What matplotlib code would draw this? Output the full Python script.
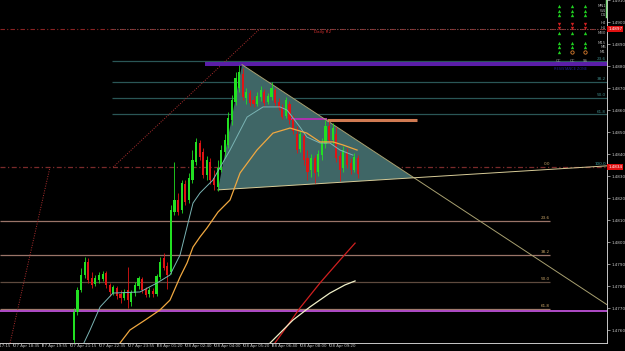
# ============================================================
# plot.py
# EURUSD-style M5 chart: descending triangle, fib levels, MAs
# ============================================================

# -----------------------------
# 1. Imports
# -----------------------------
import numpy as np
import matplotlib
matplotlib.use("Agg")
import matplotlib.pyplot as plt
from matplotlib.lines import Line2D
from matplotlib.patches import Polygon


# -----------------------------
# 2. Candle data (10 min steps, x = 5-min bar number)
# -----------------------------
bar_idx = np.arange(50, 210, 2)

opens = [
    1.47555, 1.47682, 1.47782, 1.47850, 1.47909, 1.47836, 1.47809, 1.47827, 1.47832, 1.47859,
    1.47805, 1.47768, 1.47791, 1.47764, 1.47745, 1.47782, 1.47727, 1.47768, 1.47800, 1.47832,
    1.47786, 1.47764, 1.47777, 1.47764, 1.47841, 1.47927, 1.47891, 1.47864, 1.48136, 1.48191,
    1.48145, 1.48264, 1.48191, 1.48282, 1.48364, 1.48450, 1.48409, 1.48305, 1.48364, 1.48291,
    1.48250, 1.48327, 1.48409, 1.48441, 1.48555, 1.48636, 1.48700, 1.48764, 1.48655, 1.48677,
    1.48645, 1.48627, 1.48659, 1.48682, 1.48636, 1.48659, 1.48691, 1.48636, 1.48614, 1.48573,
    1.48627, 1.48559, 1.48491, 1.48423, 1.48482, 1.48382, 1.48327, 1.48382, 1.48318, 1.48395,
    1.48445, 1.48527, 1.48464, 1.48491, 1.48391, 1.48336, 1.48409, 1.48359, 1.48327, 1.48382,
]
highs = [
    1.47700, 1.47795, 1.47882, 1.47932, 1.47927, 1.47864, 1.47850, 1.47864, 1.47868, 1.47868,
    1.47814, 1.47805, 1.47800, 1.47782, 1.47786, 1.47886, 1.47782, 1.47818, 1.47845, 1.47841,
    1.47795, 1.47795, 1.47791, 1.47855, 1.47932, 1.47950, 1.47909, 1.48168, 1.48364, 1.48223,
    1.48282, 1.48282, 1.48314, 1.48418, 1.48473, 1.48464, 1.48427, 1.48391, 1.48382, 1.48327,
    1.48373, 1.48441, 1.48491, 1.48591, 1.48668, 1.48773, 1.48805, 1.48791, 1.48700, 1.48691,
    1.48664, 1.48682, 1.48709, 1.48695, 1.48677, 1.48727, 1.48700, 1.48655, 1.48627, 1.48659,
    1.48641, 1.48577, 1.48527, 1.48505, 1.48495, 1.48418, 1.48400, 1.48395, 1.48418, 1.48473,
    1.48555, 1.48550, 1.48541, 1.48523, 1.48409, 1.48436, 1.48427, 1.48382, 1.48405, 1.48395,
]
lows = [
    1.47532, 1.47668, 1.47773, 1.47836, 1.47814, 1.47791, 1.47800, 1.47814, 1.47823, 1.47791,
    1.47755, 1.47759, 1.47741, 1.47723, 1.47736, 1.47700, 1.47709, 1.47755, 1.47786, 1.47768,
    1.47750, 1.47750, 1.47750, 1.47755, 1.47832, 1.47873, 1.47786, 1.47855, 1.48123, 1.48123,
    1.48132, 1.48168, 1.48177, 1.48268, 1.48350, 1.48373, 1.48291, 1.48282, 1.48264, 1.48236,
    1.48232, 1.48318, 1.48382, 1.48427, 1.48532, 1.48623, 1.48682, 1.48645, 1.48627, 1.48618,
    1.48614, 1.48618, 1.48641, 1.48618, 1.48627, 1.48645, 1.48618, 1.48600, 1.48559, 1.48564,
    1.48536, 1.48491, 1.48405, 1.48409, 1.48350, 1.48282, 1.48295, 1.48268, 1.48300, 1.48373,
    1.48427, 1.48450, 1.48445, 1.48364, 1.48277, 1.48318, 1.48336, 1.48309, 1.48318, 1.48291,
]
closes = [
    1.47682, 1.47782, 1.47850, 1.47909, 1.47827, 1.47805, 1.47836, 1.47850, 1.47855, 1.47805,
    1.47773, 1.47795, 1.47755, 1.47745, 1.47773, 1.47736, 1.47773, 1.47805, 1.47836, 1.47782,
    1.47759, 1.47782, 1.47764, 1.47845, 1.47909, 1.47882, 1.47850, 1.48145, 1.48191, 1.48136,
    1.48268, 1.48182, 1.48291, 1.48373, 1.48455, 1.48386, 1.48305, 1.48373, 1.48282, 1.48259,
    1.48336, 1.48418, 1.48464, 1.48564, 1.48645, 1.48745, 1.48773, 1.48659, 1.48682, 1.48632,
    1.48627, 1.48664, 1.48691, 1.48632, 1.48664, 1.48700, 1.48632, 1.48609, 1.48568, 1.48645,
    1.48555, 1.48505, 1.48418, 1.48491, 1.48373, 1.48318, 1.48382, 1.48314, 1.48400, 1.48455,
    1.48527, 1.48464, 1.48518, 1.48382, 1.48327, 1.48418, 1.48350, 1.48327, 1.48386, 1.48309,
]

# moving averages
ma_fast_x = [55.6, 59.0, 64.6, 71.8, 86.8, 96.3, 103.5, 109.1, 116.3, 120.2, 127.4,
             136.9, 146.4, 155.3, 164.7, 168.6, 175.8, 179.7, 187.0, 192.5, 198.1, 205.3]
ma_fast_y = [1.47541, 1.47600, 1.47705, 1.47768, 1.47773, 1.47814, 1.47850, 1.47941,
             1.48177, 1.48223, 1.48282, 1.48418, 1.48568, 1.48614, 1.48614, 1.48600,
             1.48523, 1.48477, 1.48450, 1.48450, 1.48418, 1.48395]

ma_slow_x = [75.7, 81.2, 89.6, 97.9, 103.5, 109.1, 113.0, 116.3, 120.2, 124.1, 130.2,
             136.9, 142.5, 151.9, 160.8, 170.3, 179.7, 187.0, 194.2, 199.8, 207.6]
ma_slow_y = [1.47541, 1.47600, 1.47645, 1.47691, 1.47736, 1.47841, 1.47905, 1.47977,
             1.48023, 1.48064, 1.48136, 1.48191, 1.48314, 1.48418, 1.48495, 1.48518,
             1.48495, 1.48455, 1.48455, 1.48441, 1.48418]

# two extra lines at lower right
red_line_x = [161.9, 170.3, 175.8, 187.0, 198.1, 206.5]
red_line_y = [1.47541, 1.47636, 1.47700, 1.47814, 1.47918, 1.47995]
cream_line_x = [159.2, 171.9, 181.4, 192.5, 200.9, 206.5]
cream_line_y = [1.47541, 1.47645, 1.47705, 1.47768, 1.47805, 1.47823]

# axes
time_ticks = [0, 16, 32, 48, 64, 80, 96, 112, 128, 144, 160, 176, 192]
time_labels = ["27 Apr 17:15", "27 Apr 18:35", "27 Apr 19:55", "27 Apr 21:15",
               "27 Apr 22:35", "27 Apr 23:55", "28 Apr 01:20", "28 Apr 02:40",
               "28 Apr 04:00", "28 Apr 05:20", "28 Apr 06:40", "28 Apr 08:00",
               "28 Apr 09:20"]
price_ticks = [1.4760, 1.4770, 1.4780, 1.4790, 1.4800, 1.4810, 1.4820, 1.4830,
               1.4840, 1.4850, 1.4860, 1.4870, 1.4880, 1.4890, 1.4900, 1.4910]

# levels
daily_r2 = 1.4897
pivot_level = 1.4834
upper_fib_levels = [1.48821, 1.48729, 1.48655, 1.48581]
upper_fib_labels = ["23.6", "38.2", "50.0", "61.8"]
lower_fib_levels = [1.48095, 1.47943, 1.47820, 1.47697]
lower_fib_labels = ["23.6", "38.2", "50.0", "61.8"]
lower_fib_colors = ["#9a7468", "#9a7468", "#5e4a3e", "#a07a6c"]
resistance_level = 1.48809
support_level = 1.47686
zone_level = 1.48555

# triangle: bottom-left, top, right tip
triangle_x = [130.2, 143.6, 239.3]
triangle_y = [1.48237, 1.48806, 1.48292]

# dotted diagonals
diag1_x = [14.5, 36.7]
diag1_y = [1.47541, 1.4834]
diag2_x = [71.8, 153.6]
diag2_y = [1.4834, 1.4897]

# multi-timeframe panel
panel_labels = ["MN1", "W1", "D1", "H4", "H1", "M30", "M15", "M5", "M1"]
panel_signals = [
    ["up", "up", "up"], ["up", "up", "up"], ["up", "up", "up"],
    ["down", "down", "down"], ["down", "down", "down"], ["up", "up", "up"],
    ["up", "up", "up"], ["up", "up", "up"], ["up", "flat", "flat"],
]
panel_footer = ["CC", "CC", "SS"]

XMIN, XMAX = 8.9, 346.7
YMIN, YMAX = 1.47541, 1.4910


# -----------------------------
# 3. Figure
# -----------------------------
W, H = 625, 351
fig = plt.figure(figsize=(W / 100, H / 100), dpi=100, facecolor="black")
ax = fig.add_axes([0, 8 / H, 607 / W, 343 / H], facecolor="black")
ax.set_xlim(XMIN, XMAX)
ax.set_ylim(YMIN, YMAX)

for side in ["top", "left"]:
    ax.spines[side].set_visible(False)
for side in ["bottom", "right"]:
    ax.spines[side].set_color("#c8c8c8")
    ax.spines[side].set_linewidth(0.7)


# -----------------------------
# 4. Horizontal levels
# -----------------------------
ax.hlines(daily_r2, XMIN, XMAX, color="#8a2222", lw=0.8, linestyles=(0, (4, 2, 1, 2)), zorder=1)
ax.hlines(daily_r2, 71.2, XMAX, color="#7a7070", lw=0.6, linestyles=(0, (1, 2)), zorder=1)
ax.text(193, daily_r2 - 0.00005, "Daily R2", color="#d03030", fontsize=3, va="top", ha="right")

ax.hlines(pivot_level, XMIN, XMAX, color="#7a2a2a", lw=0.9, linestyles=(0, (4, 2, 1, 2)), zorder=1)

for lvl, lab in zip(upper_fib_levels, upper_fib_labels):
    ax.hlines(lvl, 71.2, XMAX, color="#2a5656", lw=0.9, zorder=1)
    ax.text(346, lvl + 0.00003, lab, color="#3f8a8a", fontsize=3, ha="right", va="bottom")
ax.text(346, pivot_level + 0.00004, "100.0", color="#3fa0a0", fontsize=3, ha="right", va="bottom")

for lvl, lab, col in zip(lower_fib_levels, lower_fib_labels, lower_fib_colors):
    ax.hlines(lvl, XMIN, 315, color=col, lw=0.9, zorder=1)
    ax.text(315, lvl + 0.00003, lab, color="#c8a468", fontsize=3, ha="right", va="bottom")
ax.text(315, pivot_level + 0.00004, "0.0", color="#c8a468", fontsize=3, ha="right", va="bottom")

ax.hlines(resistance_level, 123.0, XMAX, color="#5a1ea8", lw=2.9, zorder=2)
ax.hlines(support_level, XMIN, XMAX, color="#b04cc8", lw=1.4, zorder=2)
ax.hlines(zone_level, 190.9, 241.0, color="#d07a52", lw=2.2, zorder=2)
ax.hlines(zone_level + 0.00003, 170.3, 190.9, color="#b030b0", lw=1.4, zorder=2)


# -----------------------------
# 5. Triangle and trend lines
# -----------------------------
tri = Polygon(list(zip(triangle_x, triangle_y)), closed=True,
              facecolor="#3f6666", edgecolor="none", zorder=1.5)
ax.add_patch(tri)

# upper edge (top -> tip) extended to the right edge
s_up = (triangle_y[2] - triangle_y[1]) / (triangle_x[2] - triangle_x[1])
ax.plot([triangle_x[1], XMAX], [triangle_y[1], triangle_y[1] + s_up * (XMAX - triangle_x[1])],
        color="#a8a070", lw=0.7, zorder=2.5)
# lower edge (bottom-left -> tip) extended
s_lo = (triangle_y[2] - triangle_y[0]) / (triangle_x[2] - triangle_x[0])
ax.plot([triangle_x[0], XMAX], [triangle_y[0], triangle_y[0] + s_lo * (XMAX - triangle_x[0])],
        color="#d8cc98", lw=0.7, zorder=2.5)

ax.plot(diag1_x, diag1_y, color="#b03030", lw=0.7, ls=(0, (1, 1.5)), zorder=1)
ax.plot(diag2_x, diag2_y, color="#b03030", lw=0.7, ls=(0, (1, 1.5)), zorder=1)


# -----------------------------
# 6. Candles
# -----------------------------
o = np.array(opens)
c = np.array(closes)
up = c >= o
colors = np.where(up, "#22e022", "#e01414")

ax.vlines(bar_idx, lows, highs, colors=colors, lw=0.6, zorder=3)
body_low = np.minimum(o, c)
body_h = np.maximum(np.abs(c - o), 0.00002)
ax.bar(bar_idx, body_h, bottom=body_low, width=1.2, color=colors, lw=0, zorder=3)


# -----------------------------
# 7. Moving averages and other lines
# -----------------------------
ax.plot(ma_fast_x, ma_fast_y, color="#7ab4b4", lw=0.7, zorder=4)
ax.plot(ma_slow_x, ma_slow_y, color="#f0a840", lw=0.9, zorder=4)
ax.plot(red_line_x, red_line_y, color="#d02020", lw=0.9, zorder=4)
ax.plot(cream_line_x, cream_line_y, color="#f0f0c8", lw=0.9, zorder=4)


# -----------------------------
# 8. Axes ticks and labels
# -----------------------------
ax.yaxis.tick_right()
ax.set_yticks(price_ticks)
ax.set_yticklabels([f"{p:.4f}" for p in price_ticks])
ax.tick_params(axis="y", colors="#c8c8c8", labelsize=3, length=2, width=0.5, pad=1)
ax.set_xticks([t for t in time_ticks if t >= XMIN])
ax.set_xticklabels([])
ax.tick_params(axis="x", colors="#c8c8c8", length=2, width=0.5, direction="out")

xtrans = ax.get_xaxis_transform()
for t, lab in zip(time_ticks, time_labels):
    ax.text(t + 0.5, -0.004, lab, transform=xtrans, color="#c8c8c8", fontsize=2.8,
            ha="left", va="top", clip_on=False)

ytrans = ax.get_yaxis_transform()
for lvl in [daily_r2, pivot_level]:
    ax.text(1.002, lvl, f"{lvl:.4f}", transform=ytrans, color="white", fontsize=3,
            ha="left", va="center", clip_on=False,
            bbox=dict(boxstyle="square,pad=0.25", fc="#e01010", ec="none"))


# -----------------------------
# 9. Multi-timeframe panel (top right, pixel layout)
# -----------------------------
col_px = [559, 572, 585]
row_px = [6, 10.5, 15, 23.5, 28, 32.5, 42.5, 47, 52]
for lab, y, sig in zip(panel_labels, row_px, panel_signals):
    fy = 1 - y / H
    fig.text(606 / W, fy, lab, color="#b0b0b0", fontsize=2.8, ha="right", va="center")
    for x, s in zip(col_px, sig):
        if s == "up":
            fig.add_artist(Line2D([x / W], [fy], marker="^", ms=2.4, color="#20d020", mew=0))
        elif s == "down":
            fig.add_artist(Line2D([x / W], [fy], marker="v", ms=2.4, color="#d02020", mew=0))
        else:
            fig.add_artist(Line2D([x / W], [fy], marker="o", ms=2.4, mfc="none",
                                  mec="#e08030", mew=0.6))
for x, lab in zip(col_px, panel_footer):
    fig.text(x / W, 1 - 61 / H, lab, color="#a0a0a0", fontsize=2.8, ha="center", va="center")
fig.text(571 / W, 1 - 69 / H, "RESISTANCE ZONE", color="#202090", fontsize=2.5,
         ha="center", va="center")
fig.add_artist(Line2D([606 / W, 606 / W], [1, 1 - 17 / H], color="#7adc7a", lw=1.0))


# -----------------------------
# 10. Save
# -----------------------------
fig.savefig("out.png", dpi=100, facecolor="black")
